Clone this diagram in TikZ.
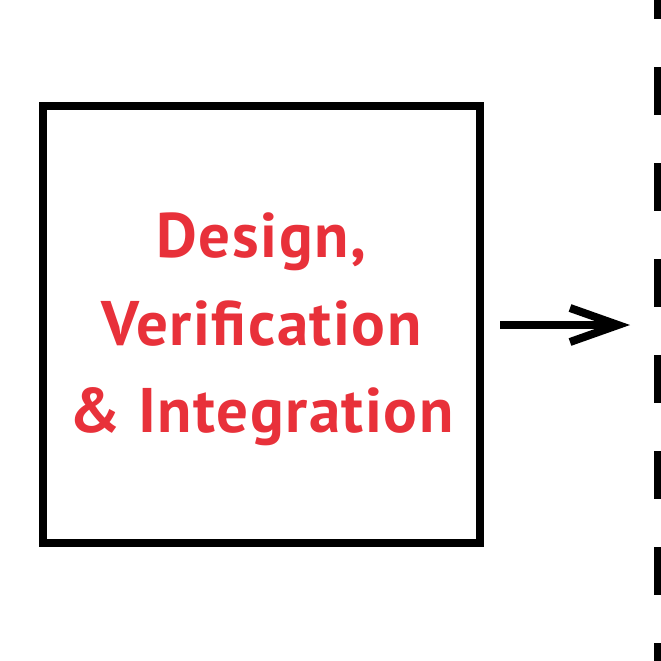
\documentclass[tikz,border=0pt]{standalone}
\usepackage{fontspec}
\newfontfamily\dinfont[LetterSpace=2.5]{PT Sans}
\usetikzlibrary{arrows.meta,calc}
\definecolor{dinred}{RGB}{232,49,58}
\tikzset{
  framebox/.style={draw=black, line width=8pt, minimum width=437pt, minimum height=437pt, inner sep=0pt},
  titletext/.style={text=dinred, align=center, inner sep=0pt,
    font=\dinfont\bfseries\fontsize{63}{87.5}\selectfont},
  connector/.style={draw=black, line width=8.5pt,
    -{Straight Barb[length=48pt, width=34pt, line width=8pt]}},
  boundary/.style={draw=black, line width=8pt, dash pattern=on 48pt off 48pt, dash phase=29pt}
}
\begin{document}
\begin{tikzpicture}[x=1pt,y=-1pt]
\useasboundingbox (0,0) rectangle (661,661);
\node[framebox] (box) at (261.5,324.5) {};
\node[titletext] (title) at ($(box.center)+(0,5)$) {Design,\\Verification\\\& Integration};
\coordinate (tip) at (630,325);
\coordinate (btop) at (658,0);
\coordinate (bbot) at (658,661);
\draw[boundary] (btop) -- (bbot);
\draw[connector, shorten <=16pt] (box.east |- tip) -- (tip);
\end{tikzpicture}
\end{document}
